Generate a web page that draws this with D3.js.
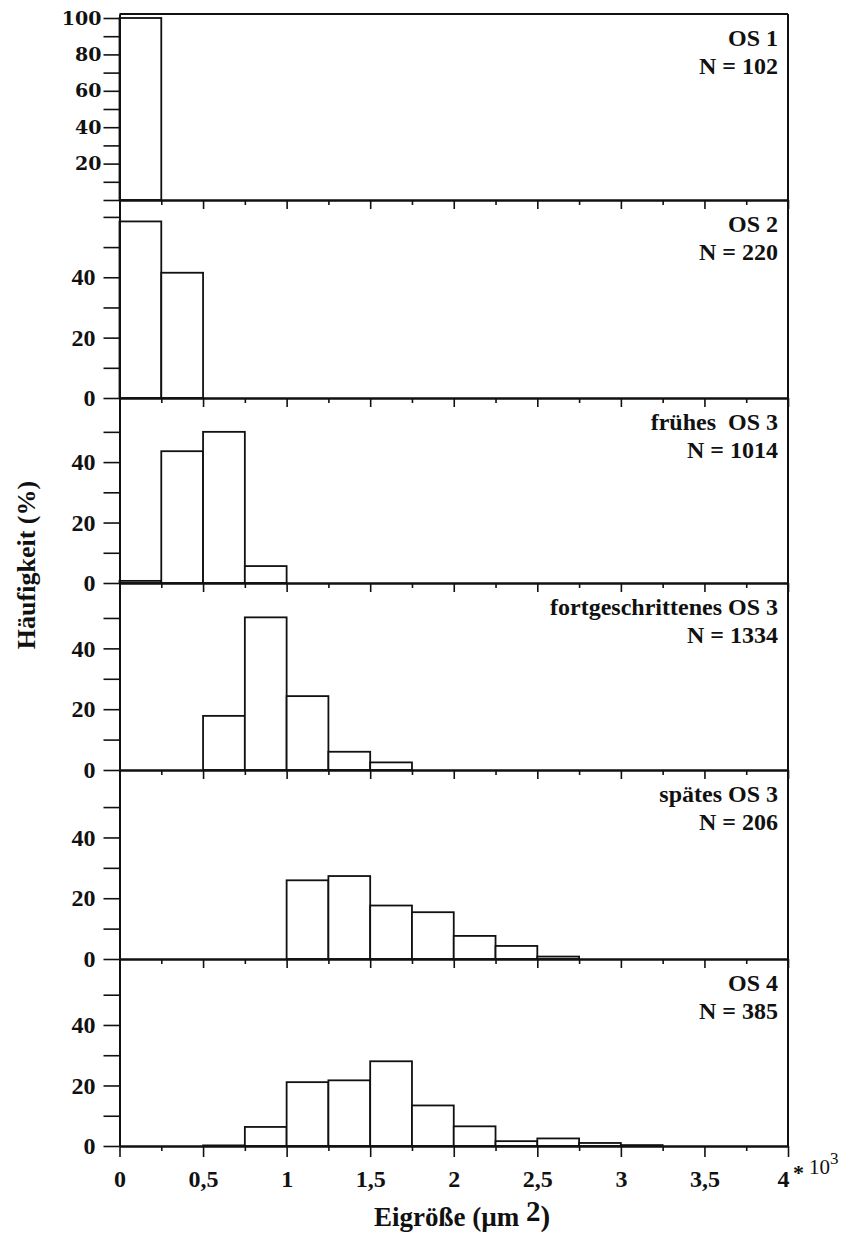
<!DOCTYPE html>
<html>
<head>
<meta charset="utf-8">
<script src="https://cdn.jsdelivr.net/npm/d3@7/dist/d3.min.js"></script>
<style>
  html, body { margin: 0; padding: 0; background: #fff; }
  svg { display: block; }
  text { fill: #111; }
</style>
</head>
<body>
<svg id="chart" width="863" height="1242"></svg>
<script>
// ---------------- DATA ----------------
// bin start values (× 10^3 µm²), bin width 0.25
const binStarts = [0, 0.25, 0.5, 0.75, 1, 1.25, 1.5, 1.75, 2, 2.25, 2.5, 2.75, 3, 3.25, 3.5, 3.75];
const binWidth = 0.25;

const panelNames = ["OS 1", "OS 2", "frühes  OS 3", "fortgeschrittenes OS 3", "spätes OS 3", "OS 4"];
const panelN = [102, 220, 1014, 1334, 206, 385];

// percent frequency per bin
const os1         = [100, 0, 0, 0, 0, 0, 0, 0, 0, 0, 0, 0, 0, 0, 0, 0];
const os2         = [58.5, 41.5, 0, 0, 0, 0, 0, 0, 0, 0, 0, 0, 0, 0, 0, 0];
const fruehOS3    = [0.7, 43.6, 50, 5.6, 0, 0, 0, 0, 0, 0, 0, 0, 0, 0, 0, 0];
const fortgOS3    = [0, 0, 17.8, 50.2, 24.3, 6.0, 2.5, 0, 0, 0, 0, 0, 0, 0, 0, 0];
const spaetOS3    = [0, 0, 0, 0, 25.9, 27.3, 17.6, 15.4, 7.6, 4.3, 0.8, 0, 0, 0, 0, 0];
const os4         = [0, 0, 0.2, 6.3, 21.1, 21.7, 28.0, 13.4, 6.5, 1.6, 2.5, 1.0, 0.3, 0, 0, 0];
const seriesValues = [os1, os2, fruehOS3, fortgOS3, spaetOS3, os4];

// y-axis domain max per panel
const yMaxes = [102.2, 65.6, 61.2, 61.5, 62.2, 61.8];
// y tick values and labelled ticks per panel
const yTickValues = [
  [0, 10, 20, 30, 40, 50, 60, 70, 80, 90, 100],
  [0, 10, 20, 30, 40, 50, 60],
  [0, 10, 20, 30, 40, 50],
  [0, 10, 20, 30, 40, 50],
  [0, 10, 20, 30, 40, 50],
  [0, 10, 20, 30, 40, 50]
];
const yTickLabels = [
  [20, 40, 60, 80, 100],
  [0, 20, 40],
  [0, 20, 40],
  [0, 20, 40],
  [0, 20, 40],
  [0, 20, 40]
];

// x ticks
const xMinorTicks = [0.25, 0.75, 1.25, 1.75, 2.25, 2.75, 3.25, 3.75];
const xMajorTicks = [0, 0.5, 1, 1.5, 2, 2.5, 3, 3.5, 4];
const xTickLabels = ["0", "0,5", "1", "1,5", "2", "2,5", "3", "3,5", "4"];

const yTitle = "Häufigkeit (%)";
const xTitle = "Eigröße (µm";

// ---------------- LAYOUT ----------------
const svg = d3.select("#chart");
const panelEdges = [14, 200, 398, 583, 770, 959, 1146];
const x = d3.scaleLinear().domain([0, 4]).range([119.5, 788]);
const serif = "'Liberation Serif', 'Times New Roman', serif";
const stroke = "#111";

seriesValues.forEach((vals, i) => {
  const top = panelEdges[i], bottom = panelEdges[i + 1];
  const y = d3.scaleLinear().domain([0, yMaxes[i]]).range([bottom, top]);
  const g = svg.append("g");

  // bars
  const bins = binStarts.map((b, j) => ({ x0: b, v: vals[j] })).filter(d => d.v > 0);
  g.selectAll("rect.bar").data(bins).join("rect")
    .attr("class", "bar")
    .attr("x", d => x(d.x0))
    .attr("y", d => y(d.v))
    .attr("width", d => x(d.x0 + binWidth) - x(d.x0))
    .attr("height", d => bottom - y(d.v))
    .attr("fill", "#fff")
    .attr("stroke", stroke)
    .attr("stroke-width", 1.8);

  // bottom axis: minor + major ticks
  const isLast = i === seriesValues.length - 1;
  const minorAx = g.append("g").attr("transform", `translate(0,${bottom})`)
    .call(d3.axisBottom(x).tickValues(xMinorTicks).tickSize(5).tickSizeOuter(0).tickFormat(""));
  const majorAx = g.append("g").attr("transform", `translate(0,${bottom})`)
    .call(d3.axisBottom(x).tickValues(xMajorTicks).tickSize(isLast ? 11 : 9).tickSizeOuter(0)
      .tickPadding(13)
      .tickFormat((d, k) => isLast ? xTickLabels[k] : ""));
  [minorAx, majorAx].forEach(a => {
    a.selectAll("path.domain").attr("stroke", stroke).attr("stroke-width", 2);
    a.selectAll("line").attr("stroke", stroke).attr("stroke-width", 1.6);
    a.selectAll("text").attr("font-family", serif).attr("font-weight", "bold")
      .attr("font-size", 24).attr("fill", "#111");
  });
  if (isLast) {
    majorAx.selectAll("text").filter((d, k) => k === xMajorTicks.length - 1).attr("dx", -5);
  }

  // left axis
  const labelled = new Set(yTickLabels[i]);
  const yAx = g.append("g").attr("transform", `translate(${x(0)},0)`)
    .call(d3.axisLeft(y).tickValues(yTickValues[i]).tickSize(16).tickSizeOuter(0)
      .tickPadding(i === 0 ? 2 : 8)
      .tickFormat(d => labelled.has(d) ? String(d) : ""));
  yAx.selectAll("path.domain").attr("stroke", stroke).attr("stroke-width", 2);
  yAx.selectAll("line").attr("stroke", stroke).attr("stroke-width", 1.6);
  yAx.selectAll("text")
    .attr("font-family", i === 0 ? "'DejaVu Serif', serif" : serif)
    .attr("font-weight", "bold")
    .attr("font-size", i === 0 ? 19 : 24)
    .attr("fill", "#111");

  // panel label
  const lab = g.append("text")
    .attr("x", 778).attr("y", top + 32)
    .attr("text-anchor", "end")
    .attr("font-family", serif).attr("font-weight", "bold").attr("font-size", 24)
    .style("white-space", "pre")
    .attr("xml:space", "preserve");
  lab.append("tspan").attr("x", 778).text(panelNames[i]);
  lab.append("tspan").attr("x", 778).attr("dy", 28).text("N = " + panelN[i]);
});

// frame: top and right border
svg.append("line").attr("x1", x(0)).attr("x2", x(4)).attr("y1", panelEdges[0]).attr("y2", panelEdges[0])
  .attr("stroke", stroke).attr("stroke-width", 2);
svg.append("line").attr("x1", x(4)).attr("x2", x(4)).attr("y1", panelEdges[0]).attr("y2", panelEdges[6])
  .attr("stroke", stroke).attr("stroke-width", 2);

// multiplier "* 10^3"
const mult = svg.append("text")
  .attr("x", 793).attr("y", 1180)
  .attr("font-family", serif).attr("font-size", 21).attr("fill", "#111");
mult.append("tspan").attr("font-weight", "bold").attr("font-size", 22).text("*");
mult.append("tspan").attr("dx", 5).attr("dy", -6).text("10");
mult.append("tspan").attr("dy", -10).attr("font-size", 17).text("3");

// y title
svg.append("text")
  .attr("transform", `translate(35,${565}) rotate(-90)`)
  .attr("text-anchor", "middle")
  .attr("font-family", serif).attr("font-weight", "bold").attr("font-size", 26)
  .text(yTitle);

// x title
const xt = svg.append("text")
  .attr("x", 462).attr("y", 1226)
  .attr("text-anchor", "middle")
  .attr("font-family", serif).attr("font-weight", "bold").attr("font-size", 27);
xt.append("tspan").text(xTitle + " ");
xt.append("tspan").attr("dy", -5).attr("font-size", 29).text("2");
xt.append("tspan").attr("dy", 5).attr("font-size", 29).text(")");
</script>
</body>
</html>
